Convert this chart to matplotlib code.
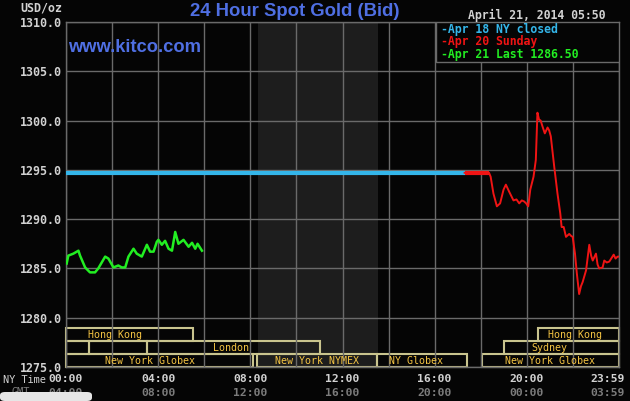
import matplotlib
matplotlib.use("Agg")
import matplotlib.pyplot as plt
from matplotlib.patches import Rectangle, FancyBboxPatch
from matplotlib.transforms import ScaledTranslation

# ---------------- data ----------------
y_ticks = [1275.0, 1280.0, 1285.0, 1290.0, 1295.0, 1300.0, 1305.0, 1310.0]
ny_time_pos = [0, 4, 8, 12, 16, 20, 24]
ny_time_labels = ["00:00", "04:00", "08:00", "12:00", "16:00", "20:00", "23:59"]
gmt_labels = ["04:00", "08:00", "12:00", "16:00", "20:00", "00:00", "03:59"]

legend_labels = ["Apr 18 NY closed", "Apr 20 Sunday", "Apr 21 Last 1286.50"]

closed_hours = [0.0, 17.3]
closed_price = [1294.7, 1294.7]

sunday_hours = [17.3, 18.36, 18.43, 18.55, 18.70, 18.84, 18.99, 19.09, 19.23, 19.42,
                19.55, 19.67, 19.78, 19.88, 19.97, 20.06, 20.15, 20.29, 20.39, 20.46,
                20.53, 20.60, 20.68, 20.78, 20.90, 20.97, 21.04, 21.19, 21.33, 21.45,
                21.51, 21.60, 21.70, 21.84, 21.92, 21.99, 22.09, 22.17, 22.27, 22.35,
                22.42, 22.57, 22.71, 22.79, 22.86, 23.00, 23.07, 23.14, 23.29, 23.36,
                23.47, 23.58, 23.77, 23.85, 23.94, 24.0]
sunday_price = [1294.7, 1294.7, 1294.3, 1292.6, 1291.3, 1291.6, 1293.0, 1293.5, 1292.8, 1291.9,
                1292.0, 1291.6, 1291.9, 1291.8, 1291.6, 1291.3, 1293.0, 1294.3, 1296.0, 1300.8,
                1300.1, 1300.0, 1299.4, 1298.7, 1299.3, 1299.0, 1298.4, 1295.3, 1292.6, 1290.6,
                1289.2, 1289.2, 1288.2, 1288.5, 1288.3, 1288.2, 1286.5, 1284.5, 1282.4, 1283.2,
                1283.6, 1284.8, 1287.4, 1286.3, 1285.8, 1286.5, 1285.4, 1285.0, 1285.1, 1285.8,
                1285.6, 1285.7, 1286.4, 1286.0, 1286.2, 1286.2]

last_hours = [0.03, 0.10, 0.32, 0.54, 0.61, 0.83, 1.04, 1.26, 1.40, 1.55, 1.70, 1.84,
              2.06, 2.27, 2.42, 2.57, 2.71, 2.93, 3.07, 3.29, 3.51, 3.65, 3.80, 3.94,
              4.01, 4.16, 4.30, 4.45, 4.60, 4.74, 4.88, 5.10, 5.32, 5.47, 5.61, 5.71, 5.90]
last_price = [1285.5, 1286.3, 1286.5, 1286.8, 1286.3, 1285.1, 1284.6, 1284.6, 1285.0, 1285.6,
              1286.2, 1286.0, 1285.1, 1285.3, 1285.1, 1285.1, 1286.2, 1287.0, 1286.5, 1286.2,
              1287.4, 1286.7, 1286.7, 1287.7, 1287.9, 1287.4, 1287.8, 1287.0, 1286.8, 1288.7,
              1287.5, 1287.9, 1287.2, 1287.6, 1287.0, 1287.5, 1286.8]

session_row = [0, 0, 1, 1, 1, 1, 2, 2, 2, 2]
session_name = ["Hong Kong", "Hong Kong", "", "", "London", "Sydney",
                "New York Globex", "New York NYMEX", "NY Globex", "New York Globex"]
session_start = [0.0, 20.5, 0.0, 1.0, 3.53, 19.0, 0.0, 8.3, 13.5, 18.05]
session_end = [5.53, 24.0, 1.0, 3.53, 11.03, 24.0, 8.1, 13.5, 17.4, 24.0]
session_label_x = [2.13, 22.1, None, None, 7.17, 21.0, 3.65, 10.9, 15.2, 21.0]

shade_start, shade_end = 8.33, 13.55

# ---------------- styling ----------------
W, H = 630, 401
BG = "#050505"
GRID = "#6a6a6a"
BOX = "#c9c48e"
SESS_TXT = "#f4c443"
BLUE = "#34b6ea"
RED = "#f01414"
GREEN = "#22ee22"
TITLE = "#4f6fe3"
MONO = "DejaVu Sans Mono"


def fx(x):
    return x / W


def fy(y):
    return 1 - y / H


fig = plt.figure(figsize=(W / 100, H / 100), dpi=100, facecolor=BG)
ax = fig.add_axes([fx(66), fy(367), (619 - 66) / W, (367 - 22) / H])
ax.set_facecolor(BG)
ax.set_xlim(0, 24)
ax.set_ylim(1275, 1310)

for s in ax.spines.values():
    s.set_color(GRID)
    s.set_linewidth(1.0)

# shaded (closed) region
ax.axvspan(shade_start, shade_end, color="#1d1d1d", zorder=0.5, lw=0)

# grid
ax.set_xticks(ny_time_pos)
ax.set_xticks([h for h in range(0, 25, 2)], minor=True)
ax.set_yticks(y_ticks)
ax.set_yticklabels([f"{v:.1f}" for v in y_ticks])
ax.set_xticklabels(ny_time_labels)
ax.grid(True, which="both", color=GRID, lw=1.0, zorder=1)
ax.set_axisbelow(False)
ax.tick_params(which="both", length=0)
ax.tick_params(axis="y", pad=3, labelsize=8.4, labelcolor="#d2d2d2")
ax.tick_params(axis="x", pad=5, labelsize=8.2, labelcolor="#d2d2d2")
for lab in ax.get_yticklabels() + ax.get_xticklabels():
    lab.set_fontfamily(MONO)
    lab.set_fontweight("bold")
last = ax.get_xticklabels()[-1]
last.set_transform(last.get_transform() + ScaledTranslation(-11 / 100, 0, fig.dpi_scale_trans))

# GMT row
xtr = ax.get_xaxis_transform()
for i, (p, g) in enumerate(zip(ny_time_pos, gmt_labels)):
    off = -11 if i == len(gmt_labels) - 1 else 0
    ax.text(p, -0.0754, g, transform=xtr + ScaledTranslation(off / 100, 0, fig.dpi_scale_trans),
            ha="center", va="center", fontsize=8.2, fontfamily=MONO,
            fontweight="bold", color="#7c7c7c", clip_on=False)

# session boxes
row_h = 1.31
for r, name, s0, s1, lx in zip(session_row, session_name, session_start, session_end, session_label_x):
    yb = 1275 + (2 - r) * row_h
    ax.add_patch(Rectangle((s0, yb), s1 - s0, row_h, fill=False, edgecolor=BOX,
                           lw=1.5, zorder=2, clip_on=False))
    if name:
        ax.text(lx, yb + row_h / 2, name, ha="center", va="center", fontsize=7.2,
                fontfamily=MONO, color=SESS_TXT, zorder=3)

# price lines
ax.plot(closed_hours, closed_price, color=BLUE, lw=3.0, zorder=4, solid_capstyle="butt")
ax.plot(sunday_hours[:2], sunday_price[:2], color=RED, lw=3.0, zorder=4, solid_capstyle="butt")
ax.plot(sunday_hours, sunday_price, color=RED, lw=1.4, zorder=4)
ax.plot(last_hours, last_price, color=GREEN, lw=1.8, zorder=4)

# legend box
ax.add_patch(Rectangle(((436 - 66) / 553, 1 - 40 / 345), (619 - 436) / 553, 40 / 345,
                       transform=ax.transAxes, facecolor=BG, edgecolor=GRID, lw=1.0, zorder=5))
for i, (lab, col) in enumerate(zip(legend_labels, [BLUE, RED, GREEN])):
    fig.text(fx(441), fy(29.5 + 12.3 * i), "-" + lab, ha="left", va="center",
             fontsize=8.3, fontfamily=MONO, fontweight="bold", color=col, zorder=6)

# header texts
fig.text(fx(295), fy(11), "24 Hour Spot Gold (Bid)", ha="center", va="center",
         fontsize=13.3, fontfamily="Liberation Sans", fontweight="bold", color=TITLE)
fig.text(fx(68), fy(48), "www.kitco.com", ha="left", va="center",
         fontsize=13.2, fontfamily="Liberation Sans", fontweight="bold", color=TITLE, zorder=6)
fig.text(fx(468), fy(15), "April 21, 2014 05:50", ha="left", va="center",
         fontsize=8.3, fontfamily=MONO, fontweight="bold", color="#d2d2d2")
fig.text(fx(62), fy(8), "USD/oz", ha="right", va="center",
         fontsize=8.4, fontfamily=MONO, fontweight="bold", color="#d2d2d2")
fig.text(fx(3), fy(380), "NY Time", ha="left", va="center",
         fontsize=7.4, fontfamily=MONO, color="#d2d2d2")
fig.text(fx(21), fy(392), "GMT", ha="center", va="center",
         fontsize=7.4, fontfamily=MONO, color="#7c7c7c")

# overlay panel at bottom-left
fig.patches.append(FancyBboxPatch((0, 0), fx(92), (401 - 392) / H,
                                  boxstyle="round,pad=0,rounding_size=0.008",
                                  transform=fig.transFigure, facecolor="#e6e6e6",
                                  edgecolor="none", zorder=10))

fig.savefig("out.png", dpi=100, facecolor=BG)
